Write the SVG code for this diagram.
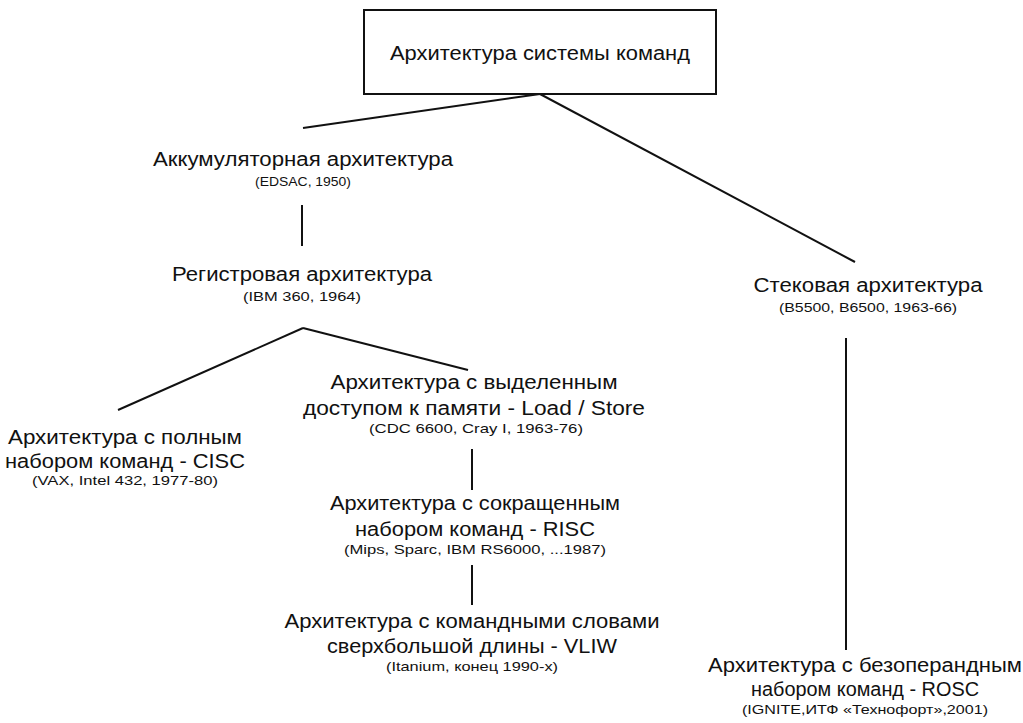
<svg xmlns="http://www.w3.org/2000/svg" width="1023" height="723" viewBox="0 0 1023 723">
<style>
text{font-family:"Liberation Sans",Arial,sans-serif;fill:#111;text-anchor:middle}
.m{font-size:20px}
.s{font-size:13px}
.c line{stroke:#111;stroke-width:2}
</style>
<rect width="1023" height="723" fill="#fff"/>
<g class="c" id="connectors">
<line x1="540" y1="94" x2="303" y2="128"/>
<line x1="540" y1="94" x2="855" y2="262"/>
<line x1="302" y1="205" x2="302" y2="246"/>
<line x1="303" y1="328" x2="118" y2="410"/>
<line x1="303" y1="328" x2="468" y2="370"/>
<line x1="472" y1="449" x2="472" y2="490"/>
<line x1="472" y1="565" x2="472" y2="605"/>
<line x1="846" y1="338" x2="846" y2="650"/>
</g>
<g id="root">
<rect x="364" y="10" width="352" height="84" fill="#fff" stroke="#111" stroke-width="2"/>
<text class="m" x="540" y="60" textLength="300" lengthAdjust="spacingAndGlyphs">Архитектура системы команд</text>
</g>
<g id="acc">
<text class="m" x="303" y="166" textLength="300" lengthAdjust="spacingAndGlyphs">Аккумуляторная архитектура</text>
<text class="s" x="303" y="186" textLength="96" lengthAdjust="spacingAndGlyphs">(EDSAC, 1950)</text>
</g>
<g id="reg">
<text class="m" x="302" y="281" textLength="260" lengthAdjust="spacingAndGlyphs">Регистровая архитектура</text>
<text class="s" x="302" y="301" textLength="118" lengthAdjust="spacingAndGlyphs">(IBM 360, 1964)</text>
</g>
<g id="cisc">
<text class="m" x="125" y="444" textLength="234" lengthAdjust="spacingAndGlyphs">Архитектура с полным</text>
<text class="m" x="125" y="468" textLength="240" lengthAdjust="spacingAndGlyphs">набором команд - CISC</text>
<text class="s" x="125" y="485" textLength="186" lengthAdjust="spacingAndGlyphs">(VAX, Intel 432, 1977-80)</text>
</g>
<g id="ls">
<text class="m" x="474" y="389" textLength="287" lengthAdjust="spacingAndGlyphs">Архитектура с выделенным</text>
<text class="m" x="474" y="415" textLength="342" lengthAdjust="spacingAndGlyphs">доступом к памяти -  Load / Store</text>
<text class="s" x="476" y="433" textLength="214" lengthAdjust="spacingAndGlyphs">(CDC 6600, Cray I, 1963-76)</text>
</g>
<g id="risc">
<text class="m" x="475" y="510" textLength="290" lengthAdjust="spacingAndGlyphs">Архитектура с сокращенным</text>
<text class="m" x="475" y="536" textLength="240" lengthAdjust="spacingAndGlyphs">набором команд - RISC</text>
<text class="s" x="475" y="554" textLength="262" lengthAdjust="spacingAndGlyphs">(Mips, Sparc, IBM RS6000, ...1987)</text>
</g>
<g id="vliw">
<text class="m" x="472" y="628" textLength="375" lengthAdjust="spacingAndGlyphs">Архитектура с командными словами</text>
<text class="m" x="472" y="653" textLength="290" lengthAdjust="spacingAndGlyphs">сверхбольшой длины - VLIW</text>
<text class="s" x="472" y="671" textLength="172" lengthAdjust="spacingAndGlyphs">(Itanium, конец 1990-х)</text>
</g>
<g id="stack">
<text class="m" x="868" y="292" textLength="229" lengthAdjust="spacingAndGlyphs">Стековая архитектура</text>
<text class="s" x="868" y="312" textLength="178" lengthAdjust="spacingAndGlyphs">(B5500, B6500, 1963-66)</text>
</g>
<g id="rosc">
<text class="m" x="865" y="672" textLength="314" lengthAdjust="spacingAndGlyphs">Архитектура с безоперандным</text>
<text class="m" x="865" y="696" textLength="228" lengthAdjust="spacingAndGlyphs">набором команд - ROSC</text>
<text class="s" x="865" y="714" textLength="246" lengthAdjust="spacingAndGlyphs">(IGNITE,ИТФ «Технофорт»,2001)</text>
</g>
</svg>
